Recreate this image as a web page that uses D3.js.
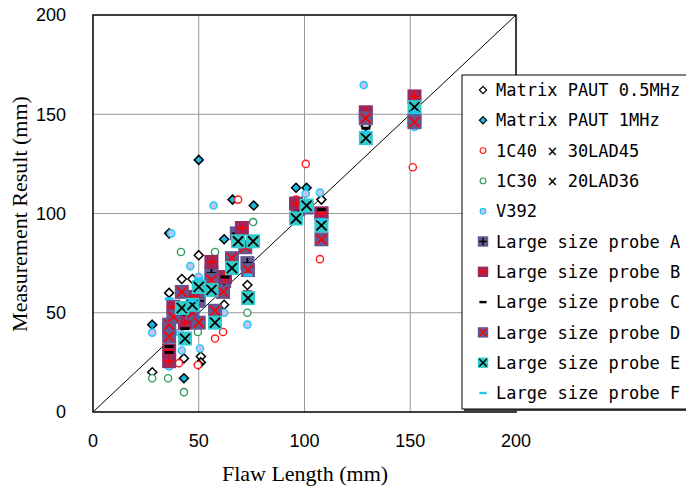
<!DOCTYPE html>
<html>
<head>
<meta charset="utf-8">
<style>
body { margin: 0; background: #fff; }
svg { display: block; }
</style>
</head>
<body>
<svg width="686" height="486"></svg>
<script src="https://cdn.jsdelivr.net/npm/d3@7"></script>
<script>
var paut05 = [[28,20],[36,60],[42,67],[47,67],[50,79],[43,27],[51,28],[51,25],[62,54],[73,64],[108,107],[129,144],[152,148]];
var paut1 = [[28,44],[36,90],[43,17],[50,24],[50,127],[62,87],[66,107],[76,104],[96,113],[101,113]];
var c40 = [[40.6,24.6],[49.6,23.7],[57.7,37],[61.5,40.3],[68.6,107],[96,107],[100.6,125],[107.3,77],[151.2,123.3]];
var c30 = [[28,17],[35.5,17],[43,10],[41.6,80.6],[49.6,40.3],[57.7,80.6],[73,50],[75.7,95.7]];
var v392 = [[28,40],[37,90],[36,23],[41,40],[42,31],[46,73.5],[50.6,32],[57,104],[62,50],[73,44],[50,68],[100.6,110],[107.3,110.5],[128,164.7],[152,143.6]];
var probeA = [[36,42],[43,48],[50,56],[56,70],[62,66],[68,90],[73,75],[97,102],[108,100],[129,149],[152,147]];
var probeB = [[36,25.6],[36,31],[38,53],[43.5,45],[47.5,58],[56,75.6],[62.4,68],[70.4,92.7],[96,105],[108,100],[129,151],[152,159]];
var probeC = [[36,33],[36,30],[43.5,42],[62.4,68],[73,60.5],[108,102],[129,143],[152,148]];
var probeD = [[36,44],[38,48],[36,38],[42,60.5],[47,50],[50,45],[57.7,51],[56,66.5],[61.5,60.5],[65.7,77.5],[73.3,71.5],[72,83],[101,103],[108,87],[129,148],[152,146]];
var probeE = [[42,52.4],[43.5,37],[47,54],[50,63],[56,61.5],[57.7,45],[65.7,72.5],[68.6,86],[75.7,86],[73.3,57.4],[96,97.5],[101,104],[108,94],[129,138],[152,153.6]];
var probeF = [[36,57],[47,56],[50,67],[73.3,69],[108,97],[129,141],[152,151]];
var ticks = [0, 50, 100, 150, 200];
var names = ["Matrix PAUT 0.5MHz", "Matrix PAUT 1MHz", "1C40 \u00d7 30LAD45", "1C30 \u00d7 20LAD36", "V392",
    "Large size probe A", "Large size probe B", "Large size probe C", "Large size probe D", "Large size probe E", "Large size probe F"];

var svg = d3.select("svg");
var x = d3.scaleLinear().domain([0, 200]).range([93, 516]);
var y = d3.scaleLinear().domain([0, 200]).range([412, 15]);

// grid
svg.append("g").selectAll("line").data(ticks.slice(1, 4)).enter().append("line")
    .attr("x1", d => x(d)).attr("x2", d => x(d)).attr("y1", y(0)).attr("y2", y(200))
    .attr("stroke", "#999").attr("stroke-width", 1);
svg.append("g").selectAll("line").data(ticks.slice(1, 4)).enter().append("line")
    .attr("y1", d => y(d)).attr("y2", d => y(d)).attr("x1", x(0)).attr("x2", x(200))
    .attr("stroke", "#999").attr("stroke-width", 1);

// 1:1 line
svg.append("line").attr("x1", x(0)).attr("y1", y(0)).attr("x2", x(200)).attr("y2", y(200))
    .attr("stroke", "#000").attr("stroke-width", 1);

// marker painters
function diamond(g, fill) {
    g.append("path").attr("d", "M0,-4.5L4.5,0L0,4.5L-4.5,0Z")
        .attr("fill", fill).attr("stroke", "#000").attr("stroke-width", 1.5);
}
function ring(g, stroke, fill) {
    g.append("circle").attr("r", 3.6).attr("fill", fill).attr("stroke", stroke).attr("stroke-width", 1.4);
}
function box(g, fill, mark, col, s) {
    g.append("rect").attr("x", -s / 2).attr("y", -s / 2).attr("width", s).attr("height", s).attr("fill", fill);
    var k = s * 0.36;
    var p = mark == "+" ? "M" + (-k) + ",0H" + k + "M0," + (-k) + "V" + k
        : "M" + (-k) + "," + (-k) + "L" + k + "," + k + "M" + k + "," + (-k) + "L" + (-k) + "," + k;
    g.append("path").attr("d", p).attr("stroke", col).attr("stroke-width", 1.8).attr("fill", "none");
}
function dash(g, col) {
    g.append("rect").attr("x", -4.5).attr("y", -1.5).attr("width", 9).attr("height", 3).attr("fill", col);
}

var series = [
    {data: paut05, draw: (g, s) => diamond(g, "#fff")},
    {data: paut1, draw: (g, s) => diamond(g, "#1bb8e4")},
    {data: c40, draw: (g, s) => ring(g, "#ff1a1a", "#fff")},
    {data: c30, draw: (g, s) => ring(g, "#2f9a5a", "#fff")},
    {data: v392, draw: (g, s) => ring(g, "#1cc8f5", "#c4c4ee")},
    {data: probeA, draw: (g, s) => box(g, "#645893", "+", "#000", s)},
    {data: probeB, draw: (g, s) => box(g, "#982a60", "+", "#ff0000", s)},
    {data: probeC, draw: (g, s) => dash(g, "#000")},
    {data: probeD, draw: (g, s) => box(g, "#645893", "x", "#ff0000", s)},
    {data: probeE, draw: (g, s) => box(g, "#33cccc", "x", "#000", s)},
    {data: probeF, draw: (g, s) => dash(g, "#19c8f5")}
];

series.forEach(function(sr) {
    svg.append("g").selectAll("g").data(sr.data).enter().append("g")
        .attr("transform", d => "translate(" + x(d[0]) + "," + y(d[1]) + ")")
        .each(function() { sr.draw(d3.select(this), 14); });
});

// frame
svg.append("rect").attr("x", x(0)).attr("y", y(200)).attr("width", x(200) - x(0)).attr("height", y(0) - y(200))
    .attr("fill", "none").attr("stroke", "#000").attr("stroke-width", 1.5);

// axes labels
svg.append("g").selectAll("text").data(ticks).enter().append("text")
    .attr("x", 66).attr("y", d => y(d)).attr("dy", "0.36em").attr("text-anchor", "end")
    .attr("font-family", "Liberation Sans, Arial, sans-serif").attr("font-size", 18).text(d => d);
svg.append("g").selectAll("text").data(ticks).enter().append("text")
    .attr("x", d => x(d)).attr("y", 447).attr("text-anchor", "middle")
    .attr("font-family", "Liberation Sans, Arial, sans-serif").attr("font-size", 18).text(d => d);
svg.append("text").attr("x", 305).attr("y", 481).attr("text-anchor", "middle")
    .attr("font-family", "Liberation Serif, serif").attr("font-size", 22).text("Flaw Length (mm)");
svg.append("text").attr("transform", "translate(27,214) rotate(-90)").attr("text-anchor", "middle")
    .attr("font-family", "Liberation Serif, serif").attr("font-size", 22).text("Measurement Result (mm)");

// legend
var lg = svg.append("g");
lg.append("rect").attr("x", 464).attr("y", 77).attr("width", 240).attr("height", 334).attr("fill", "#444");
lg.append("rect").attr("x", 462).attr("y", 75).attr("width", 240).attr("height", 334)
    .attr("fill", "#fff").attr("stroke", "#000").attr("stroke-width", 1);
var item = lg.selectAll("g").data(series).enter().append("g")
    .attr("transform", (d, i) => "translate(483," + (90 + i * 30.3) + ")");
item.each(function(sr) {
    var g = d3.select(this).append("g").attr("transform", "scale(0.8)");
    sr.draw(g, 13);
});
item.append("text").attr("x", 13).attr("dy", "0.36em")
    .attr("font-family", "DejaVu Sans Mono, monospace").attr("font-size", 17)
    .text((d, i) => names[i]);
</script>
</body>
</html>
